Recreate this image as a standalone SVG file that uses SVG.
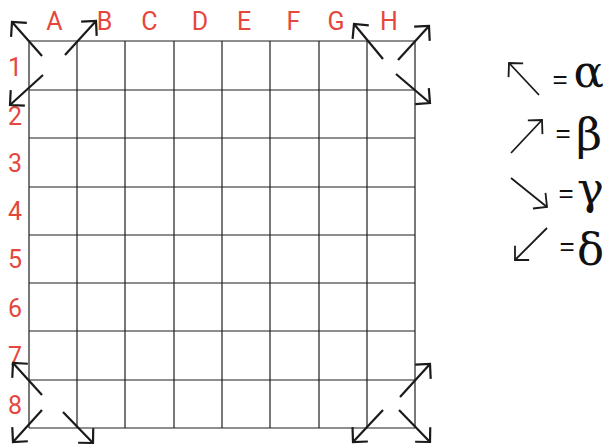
<svg xmlns="http://www.w3.org/2000/svg" width="604" height="446" viewBox="0 0 604 446">
<style>
.lbl{font-family:Roboto,"Liberation Sans",sans-serif;font-size:25px;fill:#e5473d;text-anchor:middle}
.grid line{stroke:#1e1e1e;stroke-width:1.2}
.arr{stroke:#1a1a1a;stroke-width:2.2;fill:none;marker-end:url(#ah)}
.larr{stroke:#1a1a1a;stroke-width:1.8;fill:none;marker-end:url(#lh)}
.eq{font-family:"Liberation Sans",Arial,sans-serif;font-size:26px;fill:#111;text-anchor:middle}
.gk{font-family:"DejaVu Serif","Liberation Serif",serif;font-size:45px;fill:#111;text-anchor:end}
</style>
<defs>
<marker id="ah" markerUnits="userSpaceOnUse" orient="auto" markerWidth="30" markerHeight="30" refX="15" refY="15" viewBox="0 0 30 30" overflow="visible">
<path d="M4.5,4.5 L15,15 L4.5,25.5" fill="none" stroke="#1a1a1a" stroke-width="2.2"/>
</marker>
<marker id="lh" markerUnits="userSpaceOnUse" orient="auto" markerWidth="30" markerHeight="30" refX="15" refY="15" viewBox="0 0 30 30" overflow="visible">
<path d="M5,5 L15,15 L5,25" fill="none" stroke="#1a1a1a" stroke-width="1.8"/>
</marker>
</defs>
<rect width="604" height="446" fill="#fff"/>
<g id="grid" class="grid">
<line x1="29" y1="41" x2="29" y2="428"/>
<line x1="77" y1="41" x2="77" y2="428"/>
<line x1="125" y1="41" x2="125" y2="428"/>
<line x1="174" y1="41" x2="174" y2="428"/>
<line x1="222" y1="41" x2="222" y2="428"/>
<line x1="270" y1="41" x2="270" y2="428"/>
<line x1="319" y1="41" x2="319" y2="428"/>
<line x1="367" y1="41" x2="367" y2="428"/>
<line x1="415" y1="41" x2="415" y2="428"/>
<line x1="29" y1="41" x2="415" y2="41"/>
<line x1="29" y1="90" x2="415" y2="90"/>
<line x1="29" y1="138" x2="415" y2="138"/>
<line x1="29" y1="187" x2="415" y2="187"/>
<line x1="29" y1="235" x2="415" y2="235"/>
<line x1="29" y1="283" x2="415" y2="283"/>
<line x1="29" y1="331" x2="415" y2="331"/>
<line x1="29" y1="380" x2="415" y2="380"/>
<line x1="29" y1="428" x2="415" y2="428"/>
</g>
<g id="cols">
<text class="lbl" x="54.5" y="30">A</text>
<text class="lbl" x="104.5" y="30">B</text>
<text class="lbl" x="149.5" y="30">C</text>
<text class="lbl" x="200" y="30">D</text>
<text class="lbl" x="244" y="30">E</text>
<text class="lbl" x="293.5" y="30">F</text>
<text class="lbl" x="336" y="30">G</text>
<text class="lbl" x="389" y="30">H</text>
</g>
<g id="rows">
<text class="lbl" x="15" y="76">1</text>
<text class="lbl" x="15" y="125">2</text>
<text class="lbl" x="15" y="172">3</text>
<text class="lbl" x="15" y="220">4</text>
<text class="lbl" x="15" y="268">5</text>
<text class="lbl" x="15" y="317">6</text>
<text class="lbl" x="15" y="365">7</text>
<text class="lbl" x="15" y="414">8</text>
</g>
<g id="connectors">
<line class="arr" x1="42" y1="56" x2="12" y2="22"/>
<line class="arr" x1="65" y1="55" x2="96" y2="21"/>
<line class="arr" x1="43" y1="75" x2="10" y2="105"/>
<line class="arr" x1="383" y1="59" x2="354" y2="24"/>
<line class="arr" x1="398" y1="60" x2="429" y2="26"/>
<line class="arr" x1="396" y1="74" x2="430" y2="103"/>
<line class="arr" x1="42" y1="395" x2="13" y2="363"/>
<line class="arr" x1="42" y1="410" x2="13" y2="442"/>
<line class="arr" x1="63" y1="412" x2="93" y2="443"/>
<line class="arr" x1="400" y1="397" x2="430" y2="364"/>
<line class="arr" x1="383" y1="410" x2="353" y2="442"/>
<line class="arr" x1="399" y1="410" x2="430" y2="442"/>
</g>
<g id="legend">
<line class="larr" x1="539" y1="95" x2="509" y2="63"/>
<text class="eq" x="560" y="88">=</text>
<text class="gk" x="604" y="87">α</text>
<line class="larr" x1="511" y1="153" x2="542" y2="120"/>
<text class="eq" x="563" y="142">=</text>
<text class="gk" x="602" y="150">β</text>
<line class="larr" x1="511" y1="178" x2="547" y2="207"/>
<text class="eq" x="566" y="202">=</text>
<text class="gk" x="604" y="204">γ</text>
<line class="larr" x1="547" y1="228" x2="515" y2="260"/>
<text class="eq" x="567" y="255">=</text>
<text class="gk" x="604" y="265">δ</text>
</g>
</svg>
